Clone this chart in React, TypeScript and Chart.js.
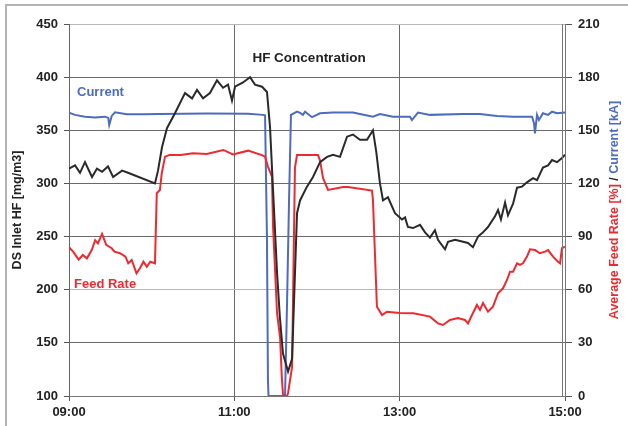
import React, { useEffect, useRef } from "react";
import { Chart, registerables } from "chart.js";

Chart.register(...registerables);

// time axis: minutes after 09:00
const timeTickLabels = ["09:00", "11:00", "13:00", "15:00"];

// DS Inlet HF [mg/m3] (left axis)
const hfTime = [0, 4.4, 8, 11.6, 16.7, 20.3, 24, 28.3, 32, 38.5, 42.8, 62.4, 64.6, 67.5, 71.1, 76.9, 84.2, 89.3, 92.9, 97.3, 102.3, 107.4, 111.8, 115.4, 118.3, 120.5, 126.3, 131.4, 135, 140.1, 143.7, 145.9, 151, 153, 155.3, 159, 161.9, 165.5, 167.7, 172.7, 177.1, 182.2, 187.3, 191.6, 196.7, 201.8, 206.1, 211.2, 216.3, 220.6, 223, 225.7, 227.9, 231.5, 236.6, 241.7, 243.9, 246, 249.7, 254.8, 258.4, 262, 265.6, 267.8, 272.9, 275.1, 280.2, 289.6, 293.2, 296.9, 300.5, 304.1, 309.2, 311.4, 313.5, 316.5, 318.6, 322.3, 325.2, 328.8, 332.4, 336.8, 339.7, 344, 347.7, 350.6, 354.2, 357.8, 360];
const hfValue = [314, 317, 310, 320, 306, 314, 311, 316, 306, 312, 310, 300, 312, 334, 352, 366, 385, 380, 388, 380, 385, 397, 390, 393, 378, 391, 395, 400, 393, 391, 386, 353, 216, 175, 140, 123, 135, 272, 284, 297, 306, 320, 325, 327, 325, 344, 346, 341, 341, 350, 330, 300, 284, 287, 272, 266, 268, 259, 258, 261, 254, 249, 256, 247, 238, 245, 247, 244, 240, 250, 254, 259, 269, 275, 266, 282, 270, 281, 296, 297, 301, 305, 303, 315, 317, 322, 320, 324, 327];

// Average Feed Rate [%] (right axis)
const feedTime = [0, 3, 7, 10, 13, 16.5, 19, 21, 24, 27, 31, 33, 37, 41, 43, 45.5, 49, 51.5, 54, 56.5, 59, 62.4, 63.7, 66, 67.3, 69.7, 73, 81, 90, 100, 112, 119, 130, 140, 142.3, 144.4, 147.3, 148.1, 151, 153.2, 154.5, 155.3, 156, 158.3, 159, 161.9, 162.6, 164, 165.5, 180.7, 182.2, 184.4, 188, 199, 202.5, 219.9, 220.6, 223.5, 227.2, 230.8, 240, 250, 262, 267.8, 271.4, 276.5, 282.3, 287.4, 289.6, 292.5, 296.1, 298.3, 300.5, 304.1, 307.7, 311.4, 315, 317.9, 320.1, 322.3, 325.2, 327.3, 329.5, 332.4, 334.6, 338.2, 341.8, 345.5, 347.7, 351.3, 354.9, 356.4, 357.8, 360];
const feedValue = [84, 81.5, 77, 79.6, 77.7, 82.4, 88, 86.2, 91.5, 85.3, 83.4, 81.5, 80.6, 78.7, 74.9, 76.8, 69.3, 72.1, 75.8, 73, 75.8, 74.9, 114.5, 116.3, 125.7, 135.1, 136.1, 136.1, 137, 136.6, 138.9, 136.4, 138.5, 136, 135.1, 129.5, 123.8, 95.6, 46.7, 33, 10, 1, 0, 0, 1.7, 16.4, 54, 129, 136, 136, 133, 123, 116.3, 118, 118, 116, 110.7, 50.4, 45.7, 47.6, 46.9, 46.7, 44.8, 41, 40.1, 42.9, 44, 42.9, 41, 45.7, 51.4, 48.6, 52.5, 47.6, 50.4, 58, 60.8, 65.5, 70.2, 70.2, 74.9, 74, 74.9, 78.7, 82.8, 82.4, 80.6, 81.5, 82.4, 78.7, 75.8, 74.9, 83.4, 84.3];

// Current [kA] (right axis)
const currentTime = [0, 4.4, 11.6, 18.9, 26.1, 28.5, 29.2, 31, 33.4, 41.9, 53.9, 66, 100, 130, 140.8, 142.3, 143.7, 144.4, 144.8, 156.8, 158.3, 159.7, 161.1, 165.5, 167.7, 169.8, 171.3, 176.4, 182.2, 191.6, 206.1, 220.6, 225.7, 235.2, 247.5, 248.9, 253.3, 262, 286, 298.3, 310.6, 322.3, 336.1, 337.5, 338.2, 339.7, 341.1, 344, 347.7, 350.6, 354.2, 360];
const currentValue = [160, 158.7, 157.7, 157.2, 157.7, 157, 153, 158.1, 160.2, 159.1, 159.1, 159.2, 159.5, 159.3, 158.7, 158.5, 88, 9, 0, 0, 54, 110, 158.7, 160.5, 159.8, 158.7, 160.5, 157.4, 159.6, 160, 160, 157.7, 159.2, 157.7, 157.7, 155.8, 160, 158.7, 159.2, 159.2, 158.1, 157.7, 157.7, 154, 148.3, 158.7, 155.8, 159.6, 158.7, 160.5, 159.6, 160];

const FONT = "'Liberation Sans', Arial, sans-serif";
const BLACK = "#2a2a2a";
const RED = "#ee2a30";
const BLUE = "#4d6cc0";

const pts = (xs: number[], ys: number[]) => xs.map((x, i) => ({ x, y: ys[i] }));

const decorPlugin = {
  id: "decor",
  afterDraw(chart: any) {
    const ctx = chart.ctx;
    const a = chart.chartArea;
    ctx.save();
    // outer frame
    ctx.strokeStyle = "#b4b4b4";
    ctx.lineWidth = 2;
    ctx.strokeRect(6, 5, 700, 500);
    // second right axis line
    ctx.strokeStyle = "#777";
    ctx.lineWidth = 1;
    ctx.beginPath();
    ctx.moveTo(a.right - 2.5, a.top);
    ctx.lineTo(a.right - 2.5, a.bottom);
    ctx.stroke();
    // title
    ctx.fillStyle = "#222";
    ctx.font = `bold 13.5px ${FONT}`;
    ctx.textAlign = "center";
    ctx.textBaseline = "middle";
    ctx.fillText("HF Concentration", 309, 58);
    // series labels
    ctx.font = `bold 13px ${FONT}`;
    ctx.textAlign = "left";
    ctx.fillStyle = BLUE;
    ctx.fillText("Current", 77, 92);
    ctx.fillStyle = RED;
    ctx.fillText("Feed Rate", 74, 284);
    // left axis title
    ctx.save();
    ctx.translate(18, (a.top + a.bottom) / 2);
    ctx.rotate(-Math.PI / 2);
    ctx.fillStyle = "#222";
    ctx.textAlign = "center";
    ctx.font = `bold 12.5px ${FONT}`;
    ctx.fillText("DS Inlet HF [mg/m3]", 0, 0);
    ctx.restore();
    // right axis title (multi-colour)
    ctx.save();
    ctx.translate(615, (a.top + a.bottom) / 2);
    ctx.rotate(-Math.PI / 2);
    ctx.font = `bold 12.5px ${FONT}`;
    ctx.textAlign = "left";
    const parts: [string, string][] = [
      ["Average Feed Rate [%]", RED],
      [" / ", "#222"],
      ["Current [kA]", BLUE],
    ];
    const total = parts.reduce((s, p) => s + ctx.measureText(p[0]).width, 0);
    let x = -total / 2;
    for (const [t, c] of parts) {
      ctx.fillStyle = c;
      ctx.fillText(t, x, 0);
      x += ctx.measureText(t).width;
    }
    ctx.restore();
    ctx.restore();
  },
};

export default function App() {
  const ref = useRef<HTMLCanvasElement | null>(null);
  useEffect(() => {
    document.body.style.margin = "0";
    const canvas = ref.current;
    if (!canvas) return;
    const tickFont = { family: FONT, size: 13, weight: "bold" as const };
    const chart = new Chart(canvas, {
      type: "line",
      data: {
        datasets: [
          {
            label: "HF",
            data: pts(hfTime, hfValue),
            yAxisID: "y",
            borderColor: BLACK,
            borderWidth: 2,
            pointRadius: 0,
            tension: 0,
          },
          {
            label: "Feed Rate",
            data: pts(feedTime, feedValue),
            yAxisID: "y2",
            borderColor: RED,
            borderWidth: 2,
            pointRadius: 0,
            tension: 0,
          },
          {
            label: "Current",
            data: pts(currentTime, currentValue),
            yAxisID: "y2",
            borderColor: BLUE,
            borderWidth: 2,
            pointRadius: 0,
            tension: 0,
          },
        ],
      },
      options: {
        animation: false,
        responsive: false,
        maintainAspectRatio: false,
        layout: { padding: { top: 24, left: 0, right: 0, bottom: 0 } },
        plugins: { legend: { display: false }, tooltip: { enabled: false } },
        scales: {
          x: {
            type: "linear",
            min: 0,
            max: 360,
            ticks: {
              stepSize: 120,
              autoSkip: false,
              maxRotation: 0,
              padding: 4,
              color: "#222",
              font: tickFont,
              callback: (v: any) => timeTickLabels[Math.round(Number(v) / 120)] ?? "",
            },
            grid: { color: "#6a6a6a", tickLength: 5, tickColor: "#555" },
            border: { color: "#777" },
            afterFit: (s: any) => {
              s.height = 30;
            },
          },
          y: {
            position: "left",
            min: 100,
            max: 450,
            ticks: { stepSize: 50, padding: 6, color: "#222", font: tickFont },
            grid: {
              color: (c: any) =>
                c.tick && (c.tick.value === 200 || c.tick.value === 450) ? "#b8b8b8" : "#6a6a6a",
              tickLength: 5,
              tickColor: "#555",
            },
            border: { color: "#666" },
            afterFit: (s: any) => {
              s.width = 69;
            },
          },
          y2: {
            position: "right",
            min: 0,
            max: 210,
            ticks: { stepSize: 30, padding: 6, color: "#222", font: tickFont },
            grid: { drawOnChartArea: false, tickLength: 7, tickColor: "#555" },
            border: { color: "#777" },
            afterFit: (s: any) => {
              s.width = 63;
            },
          },
        },
      },
      plugins: [decorPlugin],
    });
    return () => chart.destroy();
  }, []);
  return (
    <div style={{ width: 628, height: 426, background: "#fff" }}>
      <canvas ref={ref} width={628} height={426} style={{ display: "block" }} />
    </div>
  );
}
